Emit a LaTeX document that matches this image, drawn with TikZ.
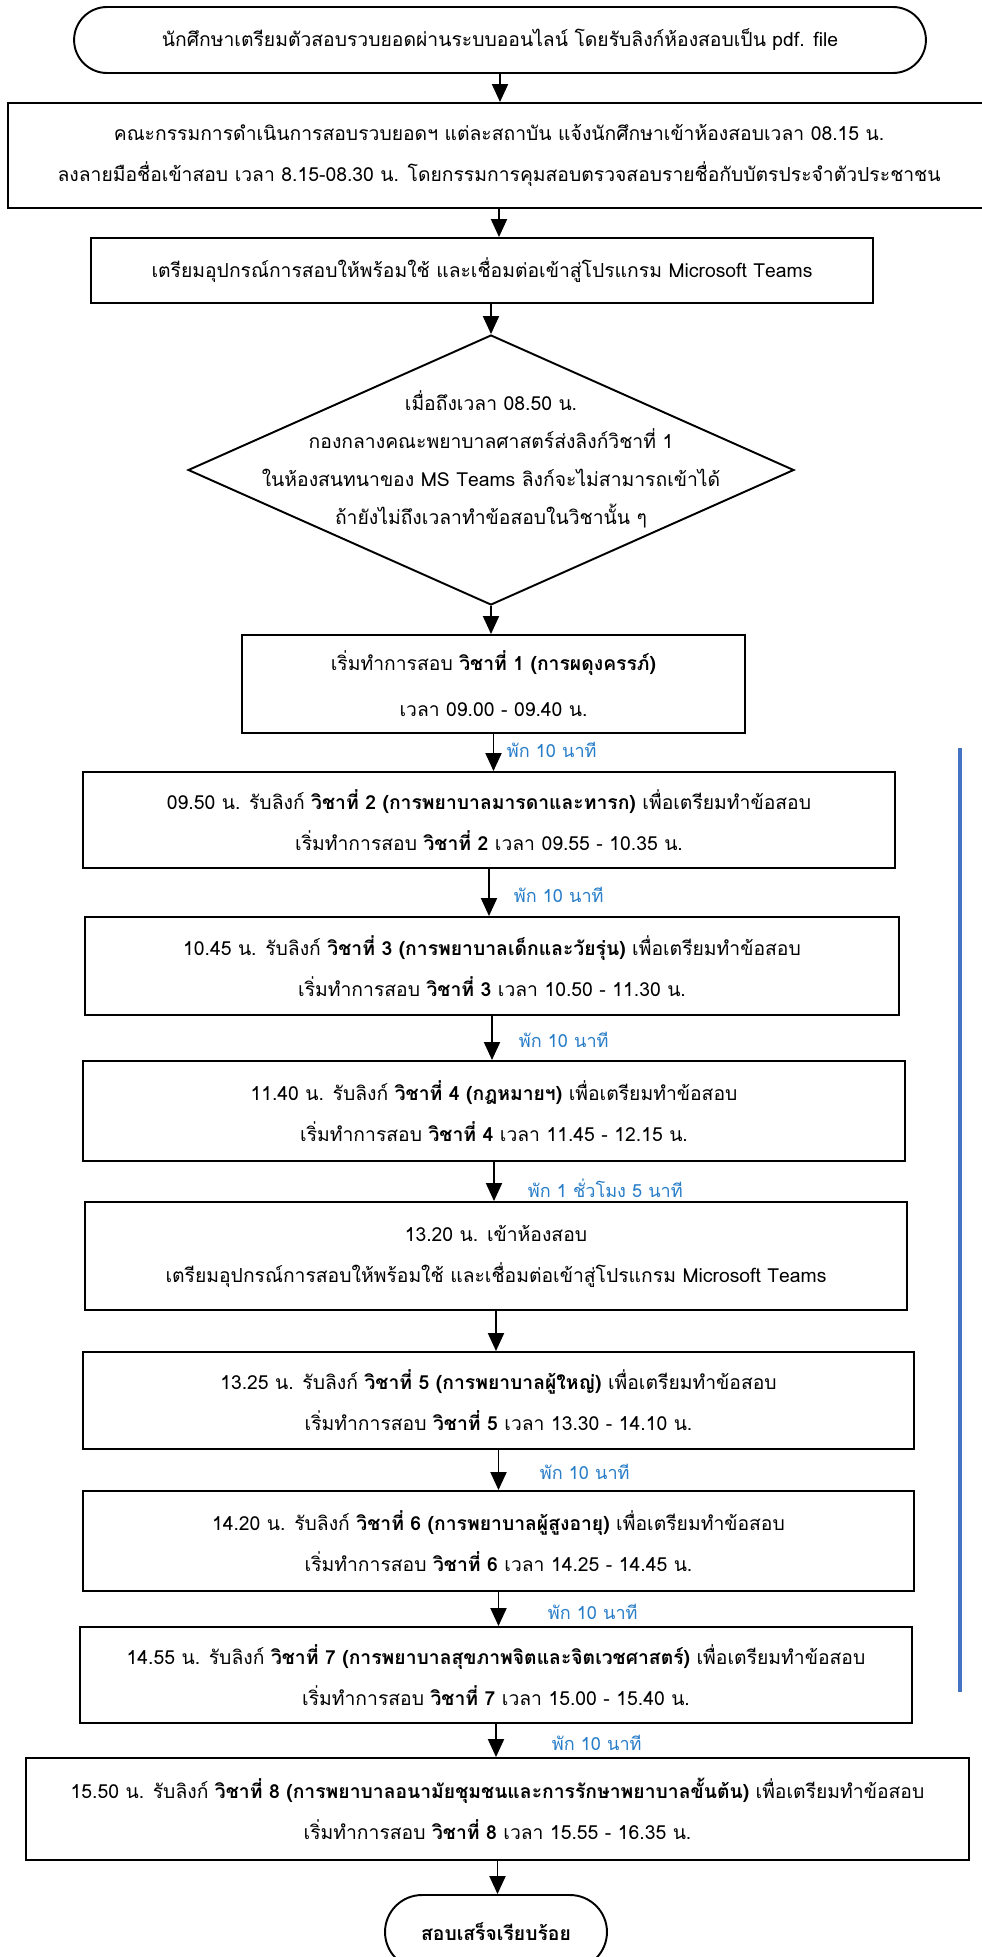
\documentclass[tikz,border=0pt]{standalone}
\usepackage{fontspec}
\setmainfont[Script=Thai]{Loma}
\usetikzlibrary{shapes.geometric}
\usetikzlibrary{arrows.meta}
\definecolor{brkblue}{RGB}{40,125,200}
\definecolor{barblue}{RGB}{68,114,196}
\def\mylinesep{23.3pt}
\tikzset{
>={Triangle[length=3.6mm,width=3.2mm]}, % filled triangle tips
my node/.style={align=center,inner sep=0pt,font=\fontsize{11pt}{\mylinesep}\selectfont},
my box/.style={draw,my node,rectangle},
my term/.style={draw,my node,rectangle,rounded corners=6.6mm},
my dec/.style={draw,my node,diamond,aspect=2.244,inner sep=-1.2cm,text depth=14pt,font=\fontsize{11pt}{21.6pt}\selectfont},
brk/.style={anchor=west,inner sep=0pt,text=brkblue,font=\fontsize{10.3pt}{12pt}\selectfont},
}

\begin{document}
\begin{tikzpicture}[x=0.02cm,y=-0.02cm,line width=1.1pt]
\useasboundingbox (0,0) rectangle (982,1957);
\clip (0,0) rectangle (982,1957);
\node[my term,minimum width=17.04cm,minimum height=1.32cm] (start) at (500,40)
  {นักศึกษาเตรียมตัวสอบรวบยอดผ่านระบบออนไลน์ โดยรับลิงก์ห้องสอบเป็น pdf. file};
\node[my box,minimum width=19.66cm,minimum height=2.10cm] (reg) at (499,155.5)
  {คณะกรรมการดำเนินการสอบรวบยอดฯ แต่ละสถาบัน แจ้งนักศึกษาเข้าห้องสอบเวลา 08.15 น.\\
   ลงลายมือชื่อเข้าสอบ เวลา 8.15-08.30 น. โดยกรรมการคุมสอบตรวจสอบรายชื่อกับบัตรประจำตัวประชาชน};
\node[my box,minimum width=15.64cm,minimum height=1.30cm] (prep) at (482,270.5)
  {เตรียมอุปกรณ์การสอบให้พร้อมใช้ และเชื่อมต่อเข้าสู่โปรแกรม Microsoft Teams};
\node[my dec,minimum width=12.12cm,minimum height=5.40cm] (dec) at (491,470)
  {เมื่อถึงเวลา 08.50 น.\\
   กองกลางคณะพยาบาลศาสตร์ส่งลิงก์วิชาที่ 1\\
   ในห้องสนทนาของ MS Teams ลิงก์จะไม่สามารถเข้าได้\\
   ถ้ายังไม่ถึงเวลาทำข้อสอบในวิชานั้น ๆ};
\node[my box,minimum width=10.06cm,minimum height=1.96cm] (s1) at (493.5,684)
  {เริ่มทำการสอบ \textbf{วิชาที่ 1 (การผดุงครรภ์)}\\[3pt]
   เวลา 09.00 - 09.40 น.};
\node[my box,minimum width=16.24cm,minimum height=1.92cm] (s2) at (489,820)
  {09.50 น. รับลิงก์ \textbf{วิชาที่ 2 (การพยาบาลมารดาและทารก)} เพื่อเตรียมทำข้อสอบ\\
   เริ่มทำการสอบ \textbf{วิชาที่ 2} เวลา 09.55 - 10.35 น.};
\node[my box,minimum width=16.28cm,minimum height=1.96cm] (s3) at (492,966)
  {10.45 น. รับลิงก์ \textbf{วิชาที่ 3 (การพยาบาลเด็กและวัยรุ่น)} เพื่อเตรียมทำข้อสอบ\\
   เริ่มทำการสอบ \textbf{วิชาที่ 3} เวลา 10.50 - 11.30 น.};
\node[my box,minimum width=16.44cm,minimum height=2.00cm] (s4) at (494,1111)
  {11.40 น. รับลิงก์ \textbf{วิชาที่ 4 (กฎหมายฯ)} เพื่อเตรียมทำข้อสอบ\\
   เริ่มทำการสอบ \textbf{วิชาที่ 4} เวลา 11.45 - 12.15 น.};
\node[my box,minimum width=16.44cm,minimum height=2.16cm] (rm) at (496,1256)
  {13.20 น. เข้าห้องสอบ\\
   เตรียมอุปกรณ์การสอบให้พร้อมใช้ และเชื่อมต่อเข้าสู่โปรแกรม Microsoft Teams};
\node[my box,minimum width=16.62cm,minimum height=1.94cm] (s5) at (498.5,1400.5)
  {13.25 น. รับลิงก์ \textbf{วิชาที่ 5 (การพยาบาลผู้ใหญ่)} เพื่อเตรียมทำข้อสอบ\\
   เริ่มทำการสอบ \textbf{วิชาที่ 5} เวลา 13.30 - 14.10 น.};
\node[my box,minimum width=16.62cm,minimum height=2.00cm] (s6) at (498.5,1541)
  {14.20 น. รับลิงก์ \textbf{วิชาที่ 6 (การพยาบาลผู้สูงอายุ)} เพื่อเตรียมทำข้อสอบ\\
   เริ่มทำการสอบ \textbf{วิชาที่ 6} เวลา 14.25 - 14.45 น.};
\node[my box,minimum width=16.64cm,minimum height=1.92cm] (s7) at (496,1675)
  {14.55 น. รับลิงก์ \textbf{วิชาที่ 7 (การพยาบาลสุขภาพจิตและจิตเวชศาสตร์)} เพื่อเตรียมทำข้อสอบ\\
   เริ่มทำการสอบ \textbf{วิชาที่ 7} เวลา 15.00 - 15.40 น.};
\node[my box,minimum width=18.86cm,minimum height=2.04cm] (s8) at (497.5,1809)
  {15.50 น. รับลิงก์ \textbf{วิชาที่ 8 (การพยาบาลอนามัยชุมชนและการรักษาพยาบาลขั้นต้น)} เพื่อเตรียมทำข้อสอบ\\
   เริ่มทำการสอบ \textbf{วิชาที่ 8} เวลา 15.55 - 16.35 น.};
\node[my term,rounded corners=7.4mm,minimum width=4.44cm,minimum height=1.48cm] (stop) at (496,1932)
  {\textbf{สอบเสร็จเรียบร้อย}};
% breaks between the papers
\node[brk] (b1) at (506,750) {พัก 10 นาที};
\node[brk] (b2) at (513,895) {พัก 10 นาที};
\node[brk] (b3) at (518,1040) {พัก 10 นาที};
\node[brk] (b4) at (527,1188) {พัก 1 ชั่วโมง 5 นาที};
\node[brk] (b5) at (539,1472) {พัก 10 นาที};
\node[brk] (b6) at (547,1612) {พัก 10 นาที};
\node[brk] (b7) at (551,1743) {พัก 10 นาที};
\path[->] (start.south) edge (start.south |- reg.north)
          (reg.south) edge (reg.south |- prep.north)
          (prep.south -| dec.north) edge (dec.north)
          (dec.south) edge (dec.south |- s1.north)
          (s1.south) edge (s1.south |- s2.north)
          (s2.south) edge (s2.south |- s3.north)
          (s3.south) edge (s3.south |- s4.north)
          (s4.south) edge (s4.south |- rm.north)
          (rm.south) edge (rm.south |- s5.north)
          (s5.south) edge (s5.south |- s6.north)
          (s6.south) edge (s6.south |- s7.north)
          (s7.south) edge (s7.south |- s8.north)
          (s8.south) edge (s8.south |- stop.north);
\draw[barblue,line width=2.3pt] (960,748) -- (960,1692);
\end{tikzpicture}
\end{document}
